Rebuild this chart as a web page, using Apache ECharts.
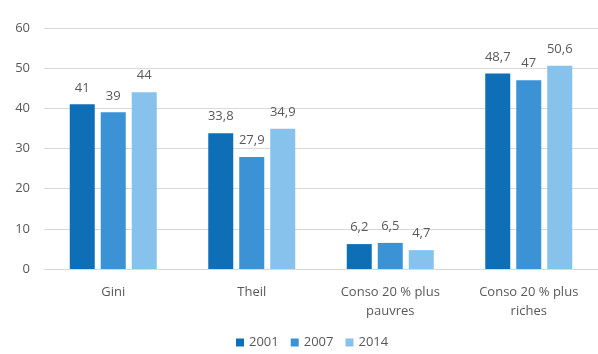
<!DOCTYPE html>
<html>
<head>
<meta charset="utf-8">
<script src="https://cdn.jsdelivr.net/npm/echarts@6/dist/echarts.min.js"></script>
<style>
  html, body { margin: 0; padding: 0; background: #ffffff; }
  #chart { width: 598px; height: 354px; }
</style>
</head>
<body>
<div id="chart"></div>
<script>
// Inequality indicators by survey year
const categories = ['Gini', 'Theil', 'Conso 20 % plus\npauvres', 'Conso 20 % plus\nriches'];
const years = ['2001', '2007', '2014'];
const values2001 = [41, 33.8, 6.2, 48.7];
const values2007 = [39, 27.9, 6.5, 47];
const values2014 = [44, 34.9, 4.7, 50.6];
const yTicks = [0, 10, 20, 30, 40, 50, 60];

const colors = ['#0f6fb6', '#3b92d4', '#86c2ec'];
const textColor = '#595959';
const fontFamily = '"Open Sans", "Liberation Sans", sans-serif';

const fmt = v => String(v).replace('.', ',');

const seriesData = [values2001, values2007, values2014];

const chart = echarts.init(document.getElementById('chart'), null, { renderer: 'canvas' });
chart.setOption({
  animation: false,
  backgroundColor: '#ffffff',
  color: colors,
  textStyle: { fontFamily: fontFamily },
  grid: { left: 44, right: 0, top: 28, bottom: 85, containLabel: false },
  legend: {
    bottom: 0,
    left: 231,
    itemWidth: 8,
    itemHeight: 8,
    itemGap: 12,
    icon: 'rect',
    textStyle: { color: textColor, fontSize: 13, fontFamily: fontFamily, padding: [0, 0, 0, 0] },
    data: years
  },
  xAxis: {
    type: 'category',
    data: categories,
    axisLine: { lineStyle: { color: '#d9d9d9' } },
    axisTick: { show: false },
    axisLabel: { color: textColor, fontSize: 13, margin: 14, lineHeight: 19, interval: 0 }
  },
  yAxis: {
    type: 'value',
    min: yTicks[0],
    max: yTicks[yTicks.length - 1],
    interval: 10,
    axisLine: { show: false },
    axisTick: { show: false },
    axisLabel: { color: textColor, fontSize: 13, margin: 14 },
    splitLine: { lineStyle: { color: '#d9d9d9', width: 1 } }
  },
  series: years.map((y, i) => ({
    name: y,
    type: 'bar',
    data: seriesData[i],
    barWidth: 25,
    barGap: '24%',
    label: {
      show: true,
      position: 'top',
      distance: 10,
      color: textColor,
      fontSize: 13,
      formatter: p => fmt(p.value)
    }
  }))
});
</script>
</body>
</html>
